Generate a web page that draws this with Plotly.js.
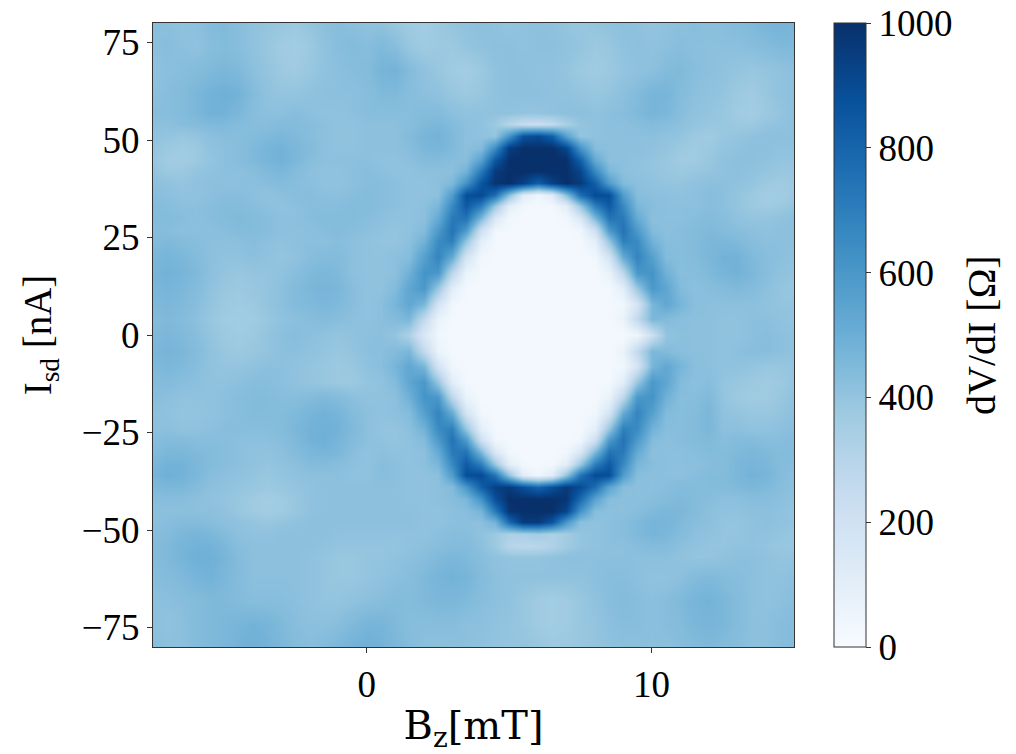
<!DOCTYPE html>
<html>
<head>
<meta charset="utf-8">
<script src="https://cdn.plot.ly/plotly-3.0.1.min.js"></script>
<style>
html,body{margin:0;padding:0;background:#fff;}
#chart{width:1016px;height:754px;}
</style>
</head>
<body>
<div id="chart"></div>
<script>
// Magnetic field B_z (mT), column centres
const bzValues = [-7.5,-7,-6.5,-6,-5.5,-5,-4.5,-4,-3.5,-3,-2.5,-2,-1.5,-1,-0.5,0,
  0.5,1,1.5,2,2.5,3,3.5,4,4.5,5,5.5,6,6.5,7,7.5,8,8.5,9,9.5,10,10.5,11,11.5,12,
  12.5,13,13.5,14,14.5,15];

// Source-drain current I_sd (nA), row centres, listed top to bottom
const isdValues = [80,74,68,62,57,54,51,48,45,42,39,36,33,30,27,24,20,16,12,8,4,0,
  -4,-8,-12,-16,-20,-24,-27,-30,-33,-36,-39,-42,-45,-48,-51,-54,-57,-62,-68,-74,-80];

// dV/dI (Ohm): one row per I_sd value (top to bottom), one column per B_z value
const dvdiRows = [
/* 80 */ [430,420,410,420,440,450,430,410,400,390,380,400,420,430,420,410, 410,390,370,360,380,400,410,420,410,400,410,420,410,400,390,400,410,420,410,400,410,420,430,420, 430,440,450,470,480,470],
/* 74 */ [420,430,420,410,430,440,430,410,390,370,360,380,410,430,440,430, 450,430,390,370,380,380,400,410,420,420,410,420,420,410,400,380,390,410,420,410,420,430,420,420, 420,420,430,440,450,450],
/* 68 */ [410,420,430,440,450,460,450,420,400,380,370,390,410,420,430,440, 470,480,440,410,390,370,360,380,410,420,420,410,410,400,380,370,380,400,410,420,440,450,430,420, 410,400,390,400,410,420],
/* 62 */ [420,430,440,460,480,490,480,440,410,400,400,410,420,420,420,430, 450,450,430,420,410,390,380,390,410,420,420,420,410,410,400,390,400,420,440,470,470,440,420,410, 400,380,370,390,410,420],
/* 57 */ [430,430,440,460,480,480,460,430,420,420,430,420,410,410,420,430, 430,430,430,440,440,420,410,410,410,410,400,400,410,420,420,410,420,430,450,470,460,430,410,400, 390,370,360,380,400,420],
/* 54 */ [420,420,430,440,450,450,440,430,430,440,440,430,420,410,410,420, 420,420,430,450,460,440,420,410,380,300,240,230,260,340,400,410,420,420,430,440,430,420,400,390, 390,380,380,400,410,420],
/* 51 */ [410,400,390,400,420,430,430,440,450,460,450,430,420,410,410,420, 420,420,440,470,480,450,420,410,400,620,870,900,820,560,400,410,420,420,420,420,410,400,380,370, 390,400,410,420,420,420],
/* 48 */ [400,380,370,380,410,420,430,450,470,480,460,440,420,410,410,420, 420,420,430,460,470,450,420,440,650,950,1000,1000,1000,920,620,430,420,420,420,410,400,380,370,380, 400,410,420,420,410,410],
/* 45 */ [390,370,360,380,400,420,430,450,470,480,460,430,420,420,420,420, 410,410,420,440,440,430,430,560,850,1000,1000,1000,1000,1000,820,520,420,420,410,400,390,370,370,390, 410,420,420,410,400,400],
/* 42 */ [400,380,380,400,410,420,420,430,450,460,440,420,410,410,420,430, 420,410,410,420,420,420,480,720,960,1000,1000,1000,1000,1000,920,660,460,420,410,400,390,380,390,400, 410,420,410,400,390,390],
/* 39 */ [420,410,400,410,420,420,420,420,430,440,430,420,410,410,420,430, 430,420,410,410,420,450,620,860,980,1000,940,820,940,1000,960,820,580,440,420,410,400,400,410,420, 420,410,400,380,370,380],
/* 36 */ [430,420,410,410,420,430,430,420,410,420,430,430,420,420,430,440, 430,420,410,410,420,580,886,900,760,420,120,40,120,420,760,900,886,580,430,420,420,410,420,430, 420,400,380,360,360,380],
/* 33 */ [440,430,420,420,430,440,440,430,420,410,420,430,430,430,440,440, 430,420,410,420,463,660,837,700,380,100,30,25,30,100,380,700,837,660,463,430,420,420,420,430, 420,400,380,370,380,400],
/* 30 */ [440,440,430,420,430,440,450,440,430,420,420,430,440,440,440,430, 420,410,410,420,516,716,743,460,150,35,25,25,25,35,150,460,743,716,516,420,420,420,430,440, 430,410,400,400,410,420],
/* 27 */ [430,430,420,420,420,430,440,440,430,420,420,420,430,440,430,420, 410,400,410,440,590,743,593,213,40,25,25,25,25,25,40,213,593,743,590,440,420,430,440,450, 440,430,420,410,420,420],
/* 24 */ [440,450,440,430,420,420,420,430,420,410,420,420,420,430,420,410, 400,400,420,482,652,700,400,100,25,25,25,25,25,25,25,100,400,700,652,482,430,430,440,460, 460,450,430,420,420,420],
/* 20 */ [460,470,460,440,420,410,410,420,410,400,410,430,440,440,420,410, 410,420,436,563,679,517,180,35,25,25,25,25,25,25,25,35,180,517,679,563,440,430,440,460, 480,480,450,430,420,410],
/* 16 */ [470,480,470,450,420,400,390,400,400,410,430,450,460,450,420,410, 410,420,489,616,598,280,65,25,25,25,25,25,25,25,25,25,65,280,598,616,489,430,430,450, 470,480,460,430,410,400],
/* 12 */ [460,470,460,440,410,390,380,390,400,420,440,460,470,460,430,410, 410,442,537,600,390,108,25,25,25,25,25,25,25,25,25,25,25,108,390,600,537,442,420,430, 440,450,440,420,400,390],
/* 8 */  [450,460,450,430,400,380,370,380,400,420,440,450,460,450,430,410, 425,470,530,464,178,38,25,25,25,25,25,25,25,25,25,25,25,38,178,464,530,470,425,420, 420,420,420,410,400,400],
/* 4 */  [440,450,440,420,390,370,360,370,390,410,420,430,440,430,420,410, 425,440,460,260,65,25,25,25,25,25,25,25,25,25,25,25,25,65,260,460,440,425,420,420, 410,410,420,420,410,400],
/* 0 */  [450,460,450,430,400,380,370,380,400,420,430,420,410,400,410,420, 420,400,330,150,40,20,20,20,20,20,20,20,20,20,20,20,20,20,50,220,400,420,420,420, 410,410,420,430,420,410],
/* -4 */ [460,470,460,440,410,390,380,390,400,420,420,410,400,390,400,420, 425,440,460,260,65,25,25,25,25,25,25,25,25,25,25,25,25,65,260,460,440,425,420,420, 410,420,430,430,420,410],
/* -8 */ [450,460,450,430,410,400,400,410,420,420,410,400,390,380,390,410, 425,470,530,464,178,38,25,25,25,25,25,25,25,25,25,25,25,38,178,464,530,470,425,420, 410,410,400,390,390,400],
/* -12 */[440,440,430,420,410,410,420,430,430,420,410,400,390,380,380,400, 410,442,537,600,390,108,25,25,25,25,25,25,25,25,25,25,25,108,390,600,537,442,420,430, 400,390,380,370,380,400],
/* -16 */[430,420,410,410,410,420,430,440,440,430,430,440,450,440,420,410, 410,420,489,616,598,280,65,25,25,25,25,25,25,25,25,25,65,280,598,616,489,430,430,450, 400,380,370,370,390,410],
/* -20 */[420,410,400,400,410,420,430,440,440,440,450,470,480,470,440,420, 410,420,436,563,679,517,180,35,25,25,25,25,25,25,25,35,180,517,679,563,440,430,440,460, 410,400,390,390,400,420],
/* -24 */[420,420,410,410,420,430,430,430,430,440,460,480,490,480,450,420, 400,400,420,482,652,700,400,100,25,25,25,25,25,25,25,100,400,700,652,482,430,430,440,460, 420,420,410,410,420,430],
/* -27 */[430,440,440,430,430,430,420,420,420,430,450,480,490,470,440,420, 410,400,410,440,590,743,593,213,40,25,25,25,25,25,40,213,593,743,590,440,420,430,440,450, 430,440,440,430,430,440],
/* -30 */[440,460,460,450,440,430,420,410,410,420,440,460,470,460,430,410, 420,410,410,420,516,716,743,460,150,35,25,25,25,35,150,460,743,716,516,420,420,420,430,440, 440,450,460,450,440,440],
/* -33 */[460,480,480,460,440,430,420,410,400,410,420,440,440,430,420,410, 430,420,410,420,463,660,837,700,380,100,30,25,30,100,380,700,837,660,463,430,420,420,420,430, 440,460,470,460,440,430],
/* -36 */[470,490,480,460,430,420,410,400,390,400,410,420,420,420,410,410, 430,420,410,410,420,580,886,900,740,400,110,40,110,400,740,900,886,580,430,420,420,420,430,440, 440,460,480,470,440,420],
/* -39 */[450,460,460,440,420,410,400,390,380,390,400,410,420,420,420,420, 420,420,410,410,420,440,600,820,940,960,880,800,880,960,900,760,540,430,420,420,430,440,440,440, 440,450,460,450,430,420],
/* -42 */[430,430,430,420,410,400,390,370,360,370,390,410,420,420,420,420, 420,420,410,410,420,430,460,620,880,1000,1000,1000,1000,980,780,550,430,420,420,430,440,450,440,430, 420,420,430,430,420,410],
/* -45 */[420,420,420,420,420,410,390,370,360,370,390,410,420,420,420,420, 420,420,420,410,410,420,430,470,720,980,1000,1000,1000,920,620,430,420,420,430,450,460,460,440,420, 410,410,420,420,410,400],
/* -48 */[420,430,440,440,430,420,410,400,390,400,410,420,420,420,420,420, 420,420,420,410,410,420,420,420,480,780,960,960,860,600,420,410,420,430,450,470,470,450,430,420, 400,400,410,420,410,400],
/* -51 */[430,440,460,470,460,440,420,410,410,420,420,420,420,410,410,410, 410,410,410,410,420,430,430,410,380,330,340,360,330,360,400,410,420,430,450,470,460,440,420,410, 400,400,410,410,400,390],
/* -54 */[440,450,470,480,480,460,430,420,420,420,420,420,410,400,400,400, 400,400,410,420,430,440,440,420,380,300,280,290,320,370,400,410,420,420,430,440,440,420,410,400, 400,410,410,400,390,390],
/* -57 */[440,450,470,490,490,470,440,420,420,420,420,410,400,390,390,400, 400,410,420,430,450,460,450,430,410,400,400,400,410,420,420,420,420,420,420,420,420,410,400,400, 410,420,420,410,400,400],
/* -62 */[430,440,450,470,480,460,440,420,420,420,420,410,400,390,390,400, 410,420,430,450,470,480,470,440,420,410,410,410,410,410,410,420,430,430,420,410,410,420,440,450, 440,430,420,410,410,420],
/* -68 */[420,420,430,440,450,450,440,430,430,430,420,410,400,400,410,420, 430,440,440,450,460,460,450,430,420,410,390,370,360,370,390,410,430,440,430,420,430,450,470,480, 460,440,420,410,420,430],
/* -74 */[420,410,420,440,450,460,470,480,470,450,430,420,420,430,450,470, 470,450,430,430,430,430,420,420,410,400,390,370,360,370,390,400,420,430,430,420,430,440,460,470, 460,440,420,420,430,440],
/* -80 */[430,420,420,440,450,460,480,490,480,460,440,430,440,460,480,490, 480,460,440,420,420,420,420,410,400,400,400,390,380,380,390,400,410,420,420,420,420,430,440,450, 440,430,420,420,430,440]
];

const xTickValues = [0, 10];
const yTickValues = [-75, -50, -25, 0, 25, 50, 75];
const cbTickValues = [0, 200, 400, 600, 800, 1000];

// matplotlib "Blues"
const bluesScale = [
  [0.0, '#f7fbff'], [0.125, '#deebf7'], [0.25, '#c6dbef'], [0.375, '#9ecae1'],
  [0.5, '#6baed6'], [0.625, '#4292c6'], [0.75, '#2171b5'], [0.875, '#08519c'], [1.0, '#08306b']
];

// ascending y for the heatmap: reverse the top-to-bottom lists
const yAsc = isdValues.slice().reverse();
const zAsc = dvdiRows.slice().reverse();

let bad = [];
if (dvdiRows.length !== isdValues.length) bad.push('rows ' + dvdiRows.length);
dvdiRows.forEach((r, i) => { if (r.length !== bzValues.length) bad.push('row ' + isdValues[i] + ': ' + r.length); });

const serif = 'Liberation Serif, Times New Roman, serif';
const plotL = 153, plotR = 794;

const trace = {
  type: 'heatmap',
  x: bzValues,
  y: yAsc,
  z: zAsc,
  zmin: 0, zmax: 1000,
  zsmooth: 'best',
  colorscale: bluesScale,
  colorbar: {
    x: (834 - plotL) / (plotR - plotL), xanchor: 'left', xpad: 0,
    y: 0.5, yanchor: 'middle', ypad: 0,
    len: 1, lenmode: 'fraction',
    thickness: 32, thicknessmode: 'pixels',
    outlinewidth: 1, outlinecolor: '#333',
    tickmode: 'array', tickvals: cbTickValues,
    ticks: 'outside', ticklen: 5, tickcolor: '#333',
    tickfont: {family: serif, size: 37, color: '#000'}
  },
  hoverinfo: 'x+y+z'
};

const annotations = [{
  text: 'dV/dI [Ω]', textangle: -90,
  xref: 'paper', yref: 'paper',
  x: (981 - plotL) / (plotR - plotL), y: 0.5,
  xanchor: 'center', yanchor: 'middle', showarrow: false,
  font: {family: serif, size: 40, color: '#000'}
}];
if (bad.length) annotations.push({text: 'BAD: ' + bad.join('; '), xref: 'paper', yref: 'paper', x: 0.5, y: 0.5, showarrow: false, font: {size: 20, color: 'red'}});

const layout = {
  width: 1016, height: 754,
  margin: {l: plotL, r: 1016 - plotR, t: 23, b: 107, pad: 0},
  paper_bgcolor: '#fff', plot_bgcolor: '#fff',
  showlegend: false,
  xaxis: {
    range: [-7.5, 15], tickmode: 'array', tickvals: xTickValues,
    ticks: 'outside', ticklen: 5, tickcolor: '#333',
    showline: true, mirror: true, linecolor: '#333', linewidth: 1,
    showgrid: false, zeroline: false,
    tickfont: {family: serif, size: 37, color: '#000'},
    title: {text: 'B<sub>z</sub>[mT]', font: {family: 'DejaVu Serif, serif', size: 40, color: '#000'}, standoff: 16}
  },
  yaxis: {
    range: [-80, 80], tickmode: 'array', tickvals: yTickValues,
    ticks: 'outside', ticklen: 5, tickcolor: '#333',
    showline: true, mirror: true, linecolor: '#333', linewidth: 1,
    showgrid: false, zeroline: false,
    tickfont: {family: serif, size: 37, color: '#000'},
    title: {text: 'I<sub>sd</sub> [nA]', font: {family: serif, size: 39, color: '#000'}, standoff: 18}
  },
  annotations: annotations
};

Plotly.newPlot('chart', [trace], layout, {displayModeBar: false, staticPlot: true});
</script>
</body>
</html>
